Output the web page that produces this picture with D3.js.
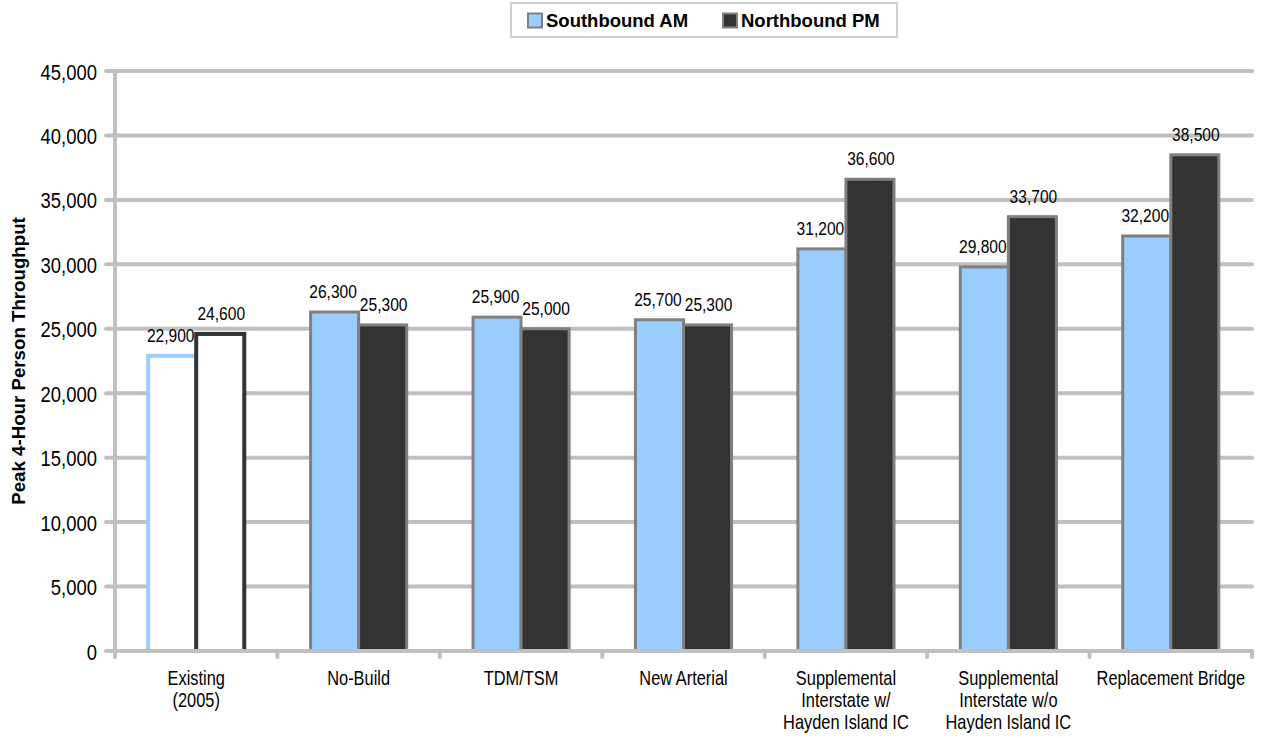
<!DOCTYPE html>
<html><head><meta charset="utf-8">
<script src="https://cdn.jsdelivr.net/npm/d3@7"></script>
<style>
html,body{margin:0;padding:0;background:#fff;}
svg{display:block;}
text{font-family:"Liberation Sans",Arial,sans-serif;}
</style></head>
<body>
<svg id="chart" width="1261" height="738"></svg>
<script>
const categories = [
  ["Existing","(2005)"],
  ["No-Build"],
  ["TDM/TSM"],
  ["New Arterial"],
  ["Supplemental","Interstate w/","Hayden Island IC"],
  ["Supplemental","Interstate w/o","Hayden Island IC"],
  ["Replacement Bridge"]
];
const seriesNames = ["Southbound AM","Northbound PM"];
const southboundAM = [22900, 26300, 25900, 25700, 31200, 29800, 32200];
const northboundPM = [24600, 25300, 25000, 25300, 36600, 33700, 38500];
const yTicks = [0,5000,10000,15000,20000,25000,30000,35000,40000,45000];
const yTitle = "Peak 4-Hour Person Throughput";

const colors = {"Southbound AM":"#99CCFF","Northbound PM":"#333333"};
const NARROW = 0.82;
const margin = {left:115, right:1252, top:71, bottom:651};
const svg = d3.select("#chart");
const catKeys = categories.map((c,i)=>i);
const x = d3.scaleBand().domain(catKeys).range([margin.left, margin.right]).padding(0);
const xs = d3.scaleBand().domain(seriesNames).range([0, x.bandwidth()]).paddingInner(0).paddingOuter(0.69);
const y = d3.scaleLinear().domain([0,45000]).range([margin.bottom, margin.top]);
const fmt = d3.format(",");

function narrowText(sel, fx, fy){
  return sel.attr("transform", (d,i)=>`translate(${fx(d,i)},${fy(d,i)}) scale(${NARROW},1)`)
    .attr("x",0).attr("y",0);
}

// gridlines (with left tick stubs)
svg.append("g").selectAll("line").data(yTicks.filter(d=>d>0)).join("line")
  .attr("x1", margin.left-9).attr("x2", margin.right)
  .attr("y1", d=>y(d)).attr("y2", d=>y(d))
  .attr("stroke","#C0C0C0").attr("stroke-width",4).attr("stroke-linecap","round");

// bars
const rows = categories.map((c,i)=>({i, vals:[{s:seriesNames[0],v:southboundAM[i]},{s:seriesNames[1],v:northboundPM[i]}]}));
const g = svg.append("g").selectAll("g").data(rows).join("g")
  .attr("transform", d=>`translate(${x(d.i)},0)`);
g.selectAll("rect").data(d=>d.vals.map(v=>({...v,i:d.i}))).join("rect")
  .attr("x", d=>xs(d.s)).attr("width", xs.bandwidth())
  .attr("y", d=>y(d.v)).attr("height", d=>y(0)-y(d.v))
  .attr("fill", d=>d.i===0 ? "#FFFFFF" : colors[d.s])
  .attr("stroke", d=>d.i===0 ? colors[d.s] : "#808080")
  .attr("stroke-width", d=>d.i===0 ? 4 : 3);

// value labels
narrowText(g.selectAll("text").data(d=>d.vals.map(v=>({...v,i:d.i}))).join("text"),
    d=>xs(d.s)+xs.bandwidth()/2 + (d.s===seriesNames[0] ? -1.5 : 1), d=>y(d.v)-14)
  .attr("text-anchor","middle").attr("font-size",19).attr("fill","#000")
  .text(d=>fmt(d.v));

// y axis labels
const yAxis = svg.append("g").attr("transform",`translate(${margin.left},0)`)
  .call(d3.axisLeft(y).tickValues(yTicks).tickFormat(fmt).tickSize(0).tickPadding(18));
yAxis.select(".domain").remove();
yAxis.selectAll(".tick text").attr("x",null).attr("dy",null)
  .attr("transform",`translate(-18,8) scale(${NARROW},1)`)
  .attr("font-size",22.5).attr("fill","#000").attr("text-anchor","end");
svg.append("line").attr("x1",margin.left).attr("x2",margin.left)
  .attr("y1",margin.top).attr("y2",margin.bottom+6)
  .attr("stroke","#C0C0C0").attr("stroke-width",4).attr("stroke-linecap","round");

// x axis
svg.append("line").attr("x1",margin.left-9).attr("x2",margin.right)
  .attr("y1",margin.bottom).attr("y2",margin.bottom)
  .attr("stroke","#C0C0C0").attr("stroke-width",4).attr("stroke-linecap","round");
const bounds = catKeys.map(k=>x(k)).concat([margin.right]);
svg.append("g").selectAll("line").data(bounds).join("line")
  .attr("x1",d=>d).attr("x2",d=>d).attr("y1",margin.bottom).attr("y2",margin.bottom+6)
  .attr("stroke","#C0C0C0").attr("stroke-width",4).attr("stroke-linecap","round");
const xl = narrowText(svg.append("g").selectAll("text").data(categories.map((c,i)=>({c,i}))).join("text"),
    d=>x(d.i)+x.bandwidth()/2, d=>685)
  .attr("font-size",20).attr("text-anchor","middle").attr("fill","#000");
xl.selectAll("tspan").data(d=>d.c.map((t,j)=>({t,j}))).join("tspan")
  .attr("x",0).attr("dy",d=>d.j===0?0:22).text(d=>d.t);

// y title
svg.append("text").attr("transform",`translate(25,${(margin.top+margin.bottom)/2}) rotate(-90)`)
  .attr("text-anchor","middle")
  .attr("font-weight","bold").attr("font-size",18.7).attr("fill","#000").text(yTitle);

// legend
const lg = svg.append("g");
lg.append("rect").attr("x",511).attr("y",3).attr("width",386).attr("height",34)
  .attr("fill","#fff").attr("stroke","#C0C0C0").attr("stroke-width",1.5);
const legX = [527, 722];
seriesNames.forEach((s,i)=>{
  lg.append("rect").attr("x",legX[i]+1).attr("y",13.5).attr("width",14).attr("height",14)
    .attr("fill",colors[s]).attr("stroke","#808080").attr("stroke-width",2);
  lg.append("text").attr("x",legX[i]+19).attr("y",27)
    .attr("font-weight","bold")
    .attr("font-size",18.5).attr("fill","#000").text(s);
});
</script>
</body></html>
